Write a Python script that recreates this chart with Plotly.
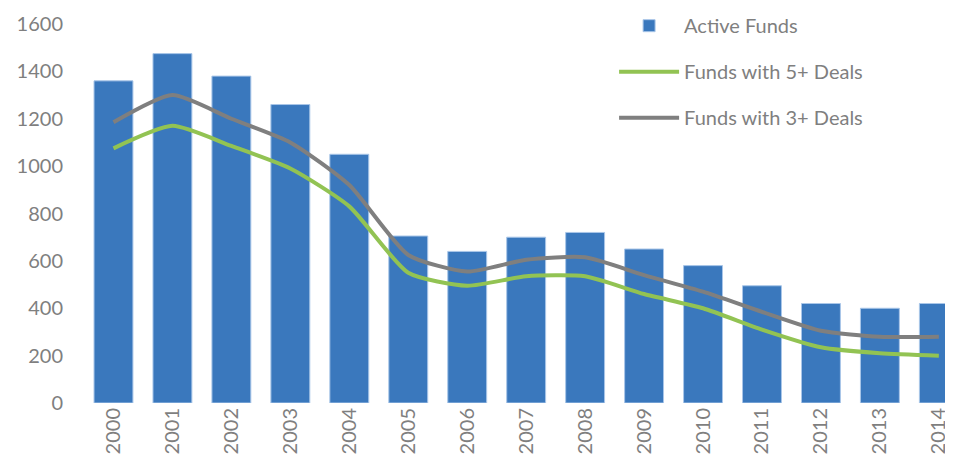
import plotly.graph_objects as go

years = [str(y) for y in range(2000, 2015)]
active_funds = [1360, 1475, 1380, 1260, 1050, 705, 640, 700, 720, 650, 580, 495, 420, 400, 420]
funds_5plus = [1075, 1170, 1085, 990, 830, 550, 495, 535, 535, 460, 400, 310, 235, 210, 200]
funds_3plus = [1185, 1300, 1200, 1100, 920, 625, 555, 605, 615, 540, 470, 385, 305, 280, 280]
y_ticks = [0, 200, 400, 600, 800, 1000, 1200, 1400, 1600]

FONT = "Lato"
GRAY_TXT = "#7f7f7f"

fig = go.Figure()
fig.add_trace(go.Bar(
    x=years, y=active_funds, name="Active Funds",
    marker=dict(color="#3a78bd", line=dict(color="#a9c6e8", width=1)),
    width=0.66, legendgroup="a",
))
fig.add_trace(go.Scatter(
    x=years, y=funds_5plus, name="Funds with 5+ Deals", mode="lines",
    line=dict(color="#92c353", width=4, shape="spline", smoothing=0.6),
    legendgroup="b",
))
fig.add_trace(go.Scatter(
    x=years, y=funds_3plus, name="Funds with 3+ Deals", mode="lines",
    line=dict(color="#7f7f7f", width=4, shape="spline", smoothing=0.6),
    legendgroup="c",
))

fig.update_layout(
    width=953, height=470,
    margin=dict(l=75.5, r=8, t=16, b=75, autoexpand=False),
    plot_bgcolor="white", paper_bgcolor="white",
    font=dict(family=FONT, color=GRAY_TXT, size=20),
    showlegend=True,
    legend=dict(
        x=0.61, y=1.047, xref="paper", yref="paper",
        xanchor="left", yanchor="top",
        font=dict(family=FONT, size=20, color=GRAY_TXT),
        tracegroupgap=17, bgcolor="rgba(0,0,0,0)", itemwidth=60,
    ),
    bargap=0.34,
)
fig.update_xaxes(
    type="category", range=[-0.5, 14.24], tickangle=-90, automargin=False,
    showgrid=False, showline=False, zeroline=False, ticks="",
    tickfont=dict(family=FONT, size=20, color=GRAY_TXT),
)
fig.update_yaxes(
    range=[0, 1600], tickvals=y_ticks, showgrid=False, showline=False,
    zeroline=False, ticks="", ticklabelstandoff=20, automargin=False,
    tickfont=dict(family=FONT, size=20, color=GRAY_TXT),
)

fig.write_html("out.html")
